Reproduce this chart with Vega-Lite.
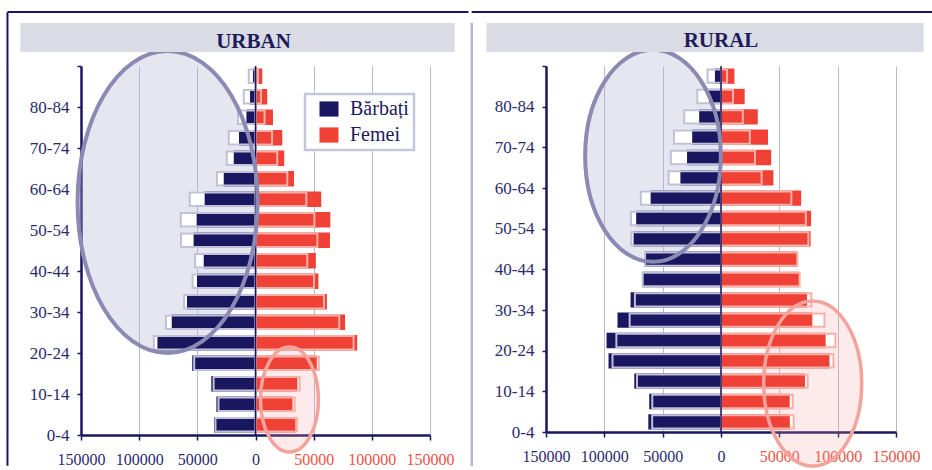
{
  "$schema": "https://vega.github.io/schema/vega-lite/v6.json",
  "background": "white",
  "padding": {"left": 6, "top": 10, "right": 0, "bottom": 0},
  "autosize": {"type": "pad"},
  "config": {
    "font": "Liberation Serif",
    "view": {"stroke": null},
    "concat": {"spacing": 0},
    "legend": {"strokeWidth": 2.5}
  },
  "datasets": {
    "urban": [
      {"age":"0-4","lo":0,"hi":5,"sex":"Bărbați","v":-35600,"m":-34400},
      {"age":"0-4","lo":0,"hi":5,"sex":"Femei","v":34400,"m":35600},
      {"age":"5-9","lo":5,"hi":10,"sex":"Bărbați","v":-33600,"m":-31800},
      {"age":"5-9","lo":5,"hi":10,"sex":"Femei","v":31800,"m":33600},
      {"age":"10-14","lo":10,"hi":15,"sex":"Bărbați","v":-38000,"m":-36000},
      {"age":"10-14","lo":10,"hi":15,"sex":"Femei","v":36000,"m":38000},
      {"age":"15-19","lo":15,"hi":20,"sex":"Bărbați","v":-54400,"m":-52700},
      {"age":"15-19","lo":15,"hi":20,"sex":"Femei","v":52700,"m":54400},
      {"age":"20-24","lo":20,"hi":25,"sex":"Bărbați","v":-84300,"m":-87400},
      {"age":"20-24","lo":20,"hi":25,"sex":"Femei","v":87400,"m":84300},
      {"age":"25-29","lo":25,"hi":30,"sex":"Bărbați","v":-72000,"m":-77000},
      {"age":"25-29","lo":25,"hi":30,"sex":"Femei","v":77000,"m":72000},
      {"age":"30-34","lo":30,"hi":35,"sex":"Bărbați","v":-58900,"m":-61400},
      {"age":"30-34","lo":30,"hi":35,"sex":"Femei","v":61400,"m":58900},
      {"age":"35-39","lo":35,"hi":40,"sex":"Bărbați","v":-50300,"m":-54100},
      {"age":"35-39","lo":35,"hi":40,"sex":"Femei","v":54100,"m":50300},
      {"age":"40-44","lo":40,"hi":45,"sex":"Bărbați","v":-44500,"m":-51900},
      {"age":"40-44","lo":40,"hi":45,"sex":"Femei","v":51900,"m":44500},
      {"age":"45-49","lo":45,"hi":50,"sex":"Bărbați","v":-53200,"m":-64000},
      {"age":"45-49","lo":45,"hi":50,"sex":"Femei","v":64000,"m":53200},
      {"age":"50-54","lo":50,"hi":55,"sex":"Bărbați","v":-50600,"m":-64300},
      {"age":"50-54","lo":50,"hi":55,"sex":"Femei","v":64300,"m":50600},
      {"age":"55-59","lo":55,"hi":60,"sex":"Bărbați","v":-43700,"m":-56500},
      {"age":"55-59","lo":55,"hi":60,"sex":"Femei","v":56500,"m":43700},
      {"age":"60-64","lo":60,"hi":65,"sex":"Bărbați","v":-27300,"m":-33100},
      {"age":"60-64","lo":60,"hi":65,"sex":"Femei","v":33100,"m":27300},
      {"age":"65-69","lo":65,"hi":70,"sex":"Bărbați","v":-18700,"m":-24700},
      {"age":"65-69","lo":65,"hi":70,"sex":"Femei","v":24700,"m":18700},
      {"age":"70-74","lo":70,"hi":75,"sex":"Bărbați","v":-14200,"m":-23000},
      {"age":"70-74","lo":70,"hi":75,"sex":"Femei","v":23000,"m":14200},
      {"age":"75-79","lo":75,"hi":80,"sex":"Bărbați","v":-7800,"m":-15000},
      {"age":"75-79","lo":75,"hi":80,"sex":"Femei","v":15000,"m":7800},
      {"age":"80-84","lo":80,"hi":85,"sex":"Bărbați","v":-4700,"m":-10100},
      {"age":"80-84","lo":80,"hi":85,"sex":"Femei","v":10100,"m":4700},
      {"age":"85+","lo":85,"hi":90,"sex":"Bărbați","v":-2200,"m":-5800},
      {"age":"85+","lo":85,"hi":90,"sex":"Femei","v":5800,"m":2200}
    ],
    "rural": [
      {"age":"0-4","lo":0,"hi":5,"sex":"Bărbați","v":-62300,"m":-59000},
      {"age":"0-4","lo":0,"hi":5,"sex":"Femei","v":59000,"m":62300},
      {"age":"5-9","lo":5,"hi":10,"sex":"Bărbați","v":-61500,"m":-58900},
      {"age":"5-9","lo":5,"hi":10,"sex":"Femei","v":58900,"m":61500},
      {"age":"10-14","lo":10,"hi":15,"sex":"Bărbați","v":-74300,"m":-72000},
      {"age":"10-14","lo":10,"hi":15,"sex":"Femei","v":72000,"m":74300},
      {"age":"15-19","lo":15,"hi":20,"sex":"Bărbați","v":-96400,"m":-93000},
      {"age":"15-19","lo":15,"hi":20,"sex":"Femei","v":93000,"m":96400},
      {"age":"20-24","lo":20,"hi":25,"sex":"Bărbați","v":-98100,"m":-89700},
      {"age":"20-24","lo":20,"hi":25,"sex":"Femei","v":89700,"m":98100},
      {"age":"25-29","lo":25,"hi":30,"sex":"Bărbați","v":-88700,"m":-78300},
      {"age":"25-29","lo":25,"hi":30,"sex":"Femei","v":78300,"m":88700},
      {"age":"30-34","lo":30,"hi":35,"sex":"Bărbați","v":-77500,"m":-73800},
      {"age":"30-34","lo":30,"hi":35,"sex":"Femei","v":73800,"m":77500},
      {"age":"35-39","lo":35,"hi":40,"sex":"Bărbați","v":-67400,"m":-67100},
      {"age":"35-39","lo":35,"hi":40,"sex":"Femei","v":67100,"m":67400},
      {"age":"40-44","lo":40,"hi":45,"sex":"Bărbați","v":-65400,"m":-65100},
      {"age":"40-44","lo":40,"hi":45,"sex":"Femei","v":65100,"m":65400},
      {"age":"45-49","lo":45,"hi":50,"sex":"Bărbați","v":-74900,"m":-76800},
      {"age":"45-49","lo":45,"hi":50,"sex":"Femei","v":76800,"m":74900},
      {"age":"50-54","lo":50,"hi":55,"sex":"Bărbați","v":-72700,"m":-77200},
      {"age":"50-54","lo":50,"hi":55,"sex":"Femei","v":77200,"m":72700},
      {"age":"55-59","lo":55,"hi":60,"sex":"Bărbați","v":-60300,"m":-68700},
      {"age":"55-59","lo":55,"hi":60,"sex":"Femei","v":68700,"m":60300},
      {"age":"60-64","lo":60,"hi":65,"sex":"Bărbați","v":-34800,"m":-44900},
      {"age":"60-64","lo":60,"hi":65,"sex":"Femei","v":44900,"m":34800},
      {"age":"65-69","lo":65,"hi":70,"sex":"Bărbați","v":-29100,"m":-43000},
      {"age":"65-69","lo":65,"hi":70,"sex":"Femei","v":43000,"m":29100},
      {"age":"70-74","lo":70,"hi":75,"sex":"Bărbați","v":-24700,"m":-40300},
      {"age":"70-74","lo":70,"hi":75,"sex":"Femei","v":40300,"m":24700},
      {"age":"75-79","lo":75,"hi":80,"sex":"Bărbați","v":-18700,"m":-31500},
      {"age":"75-79","lo":75,"hi":80,"sex":"Femei","v":31500,"m":18700},
      {"age":"80-84","lo":80,"hi":85,"sex":"Bărbați","v":-10300,"m":-20300},
      {"age":"80-84","lo":80,"hi":85,"sex":"Femei","v":20300,"m":10300},
      {"age":"85+","lo":85,"hi":90,"sex":"Bărbați","v":-5200,"m":-11500},
      {"age":"85+","lo":85,"hi":90,"sex":"Femei","v":11500,"m":5200}
    ]
  },
  "hconcat": [
    {
      "width": 349,
      "height": 369,
      "layer": [
        {
          "data": {"values": [{"x": -75600, "y": 56.83}]},
          "mark": {"type": "point", "shape": "M0,-1A0.596,1,0,1,1,0,1A0.596,1,0,1,1,0,-1Z", "size": 91204, "filled": true, "fill": "#b4b4d2", "fillOpacity": 0.33, "strokeOpacity": 0, "opacity": 1},
          "encoding": {
            "x": {"field": "x", "type": "quantitative", "scale": {"domain": [-150000, 150000], "nice": false, "zero": false},
              "axis": {"values": [-150000, -100000, -50000, 0, 50000, 100000, 150000], "labelExpr": "format(abs(datum.value), 'd')", "title": null, "grid": true, "gridColor": "#b9b9cc", "gridWidth": 1, "domainColor": "#1a1660", "domainWidth": 2.5, "tickColor": "#1a1660", "tickWidth": 1.5, "tickSize": 5, "labelFont": "Liberation Serif", "labelFontSize": 16, "labelColor": {"condition": {"test": "datum.value > 0", "value": "#f0513f"}, "value": "#2b2b6b"}, "labelPadding": 11, "labelFlush": false, "labelOverlap": false}},
            "y": {"field": "y", "type": "quantitative", "scale": {"domain": [0, 90], "nice": false, "zero": false},
              "axis": {"values": [0, 5, 10, 15, 20, 25, 30, 35, 40, 45, 50, 55, 60, 65, 70, 75, 80, 85, 90], "labelExpr": "datum.value % 10 === 0 && datum.value < 90 ? datum.value + '-' + (datum.value + 4) : ''", "title": null, "grid": false, "domainColor": "#1a1660", "domainWidth": 2.5, "tickColor": "#1a1660", "tickWidth": 1.5, "tickSize": 4, "labelFont": "Liberation Serif", "labelFontSize": 17, "labelColor": "#2b2b6b", "labelPadding": 8, "labelFlush": false, "labelOverlap": false, "labelBaseline": "middle"}}
          }
        },
        {
          "data": {"values": [{"x": 29200, "y": 8.66}]},
          "mark": {"type": "point", "shape": "M0,-1A0.552,1,0,1,1,0,1A0.552,1,0,1,1,0,-1Z", "size": 11025, "filled": true, "fill": "#f6a0a0", "fillOpacity": 0.22, "strokeOpacity": 0, "opacity": 1},
          "encoding": {"x": {"field": "x", "type": "quantitative"}, "y": {"field": "y", "type": "quantitative"}}
        },
        {
          "data": {"name": "urban"},
          "mark": {"type": "rect", "fill": "white", "yOffset": -2.5, "y2Offset": 2.5},
          "encoding": {"x": {"field": "m", "type": "quantitative"}, "x2": {"datum": 0}, "y": {"field": "lo", "type": "quantitative"}, "y2": {"field": "hi"}}
        },
        {
          "data": {"name": "urban"},
          "mark": {"type": "rect", "yOffset": -2.5, "y2Offset": 2.5},
          "encoding": {
            "x": {"field": "v", "type": "quantitative"}, "x2": {"datum": 0},
            "y": {"field": "lo", "type": "quantitative"}, "y2": {"field": "hi"},
            "color": {"field": "sex", "type": "nominal", "scale": {"domain": ["Bărbați", "Femei"], "range": ["#1a1660", "#ef4136"]},
              "legend": {"orient": "none", "legendX": 224, "legendY": 28, "title": null, "direction": "vertical", "symbolType": "M-1,-0.8H1V0.8H-1Z", "symbolSize": 361, "symbolStrokeWidth": 0, "symbolOffset": 9, "labelFont": "Liberation Serif", "labelFontSize": 20, "labelColor": "#1e1b5c", "labelOffset": 11, "padding": 5, "rowPadding": 6, "strokeColor": "#c6c6da", "fillColor": "white"}}
          }
        },
        {
          "data": {"name": "urban"},
          "mark": {"type": "rect", "fillOpacity": 0, "strokeWidth": 2, "yOffset": -3.5, "y2Offset": 3.5},
          "encoding": {
            "x": {"field": "m", "type": "quantitative"}, "x2": {"datum": 0},
            "y": {"field": "lo", "type": "quantitative"}, "y2": {"field": "hi"},
            "stroke": {"field": "sex", "type": "nominal", "scale": {"domain": ["Bărbați", "Femei"], "range": ["#c0c0d8", "#f6b0a8"]}, "legend": null}
          }
        },
        {
          "data": {"values": [{}]},
          "mark": {"type": "rule", "color": "#1a1660", "strokeWidth": 1.5},
          "encoding": {"x": {"datum": 0}}
        },
        {
          "data": {"values": [{"x": -75600, "y": 56.83}]},
          "mark": {"type": "point", "shape": "M0,-1A0.596,1,0,1,1,0,1A0.596,1,0,1,1,0,-1Z", "size": 91204, "filled": false, "stroke": "#8a8ab2", "strokeWidth": 4, "opacity": 1},
          "encoding": {"x": {"field": "x", "type": "quantitative"}, "y": {"field": "y", "type": "quantitative"}}
        },
        {
          "data": {"values": [{"x": 29200, "y": 8.66}]},
          "mark": {"type": "point", "shape": "M0,-1A0.552,1,0,1,1,0,1A0.552,1,0,1,1,0,-1Z", "size": 11025, "filled": false, "stroke": "#f4a39c", "strokeWidth": 3.5, "opacity": 1},
          "encoding": {"x": {"field": "x", "type": "quantitative"}, "y": {"field": "y", "type": "quantitative"}}
        },
        {
          "data": {"values": [{}]},
          "mark": {"type": "rect", "color": "#dbdbe6"},
          "encoding": {"x": {"datum": -202200}, "x2": {"datum": 171300}, "y": {"datum": 93.4}, "y2": {"datum": 100.5}}
        },
        {
          "data": {"values": [{"t": "URBAN"}]},
          "mark": {"type": "text", "font": "Liberation Serif", "fontSize": 21, "fontWeight": "bold", "color": "#1e1b5c", "baseline": "alphabetic", "align": "center"},
          "encoding": {"x": {"datum": -1700}, "y": {"datum": 94.4}, "text": {"field": "t"}}
        },
        {
          "data": {"values": [{}]},
          "mark": {"type": "rule", "color": "#1a1660", "strokeWidth": 2},
          "encoding": {"x": {"datum": -213200}, "y": {"datum": 89.9}, "y2": {"datum": 0.1}}
        },
        {
          "data": {"values": [{}]},
          "mark": {"type": "rule", "color": "#1a1660", "strokeWidth": 2},
          "encoding": {"x": {"datum": -213200}, "y": {"datum": 103.1}, "y2": {"datum": 89.8}}
        },
        {
          "data": {"values": [{}]},
          "mark": {"type": "rule", "color": "#1a1660", "strokeWidth": 2},
          "encoding": {"x": {"datum": -213200}, "y": {"datum": 0.2}, "y2": {"datum": -7.5}}
        },
        {
          "data": {"values": [{}]},
          "mark": {"type": "rule", "color": "#1a1660", "strokeWidth": 2},
          "encoding": {"x": {"datum": -213200}, "x2": {"datum": 183100}, "y": {"datum": 103.17}}
        }
      ]
    },
    {
      "width": 350,
      "height": 366,
      "layer": [
        {
          "data": {"values": [{"x": -58300, "y": 67.9}]},
          "mark": {"type": "point", "shape": "M0,-1A0.64,1,0,1,1,0,1A0.64,1,0,1,1,0,-1Z", "size": 44944, "filled": true, "fill": "#b4b4d2", "fillOpacity": 0.33, "strokeOpacity": 0, "opacity": 1},
          "encoding": {
            "x": {"field": "x", "type": "quantitative", "scale": {"domain": [-150000, 150000], "nice": false, "zero": false},
              "axis": {"values": [-150000, -100000, -50000, 0, 50000, 100000, 150000], "labelExpr": "format(abs(datum.value), 'd')", "title": null, "grid": true, "gridColor": "#b9b9cc", "gridWidth": 1, "domainColor": "#1a1660", "domainWidth": 2.5, "tickColor": "#1a1660", "tickWidth": 1.5, "tickSize": 5, "labelFont": "Liberation Serif", "labelFontSize": 16, "labelColor": {"condition": {"test": "datum.value > 0", "value": "#f0513f"}, "value": "#2b2b6b"}, "labelPadding": 11, "labelFlush": false, "labelOverlap": false}},
            "y": {"field": "y", "type": "quantitative", "scale": {"domain": [0, 90], "nice": false, "zero": false},
              "axis": {"values": [0, 5, 10, 15, 20, 25, 30, 35, 40, 45, 50, 55, 60, 65, 70, 75, 80, 85, 90], "labelExpr": "datum.value % 10 === 0 && datum.value < 90 ? datum.value + '-' + (datum.value + 4) : ''", "title": null, "grid": false, "domainColor": "#1a1660", "domainWidth": 2.5, "tickColor": "#1a1660", "tickWidth": 1.5, "tickSize": 4, "labelFont": "Liberation Serif", "labelFontSize": 17, "labelColor": "#2b2b6b", "labelPadding": 8, "labelFlush": false, "labelOverlap": false, "labelBaseline": "middle"}}
          }
        },
        {
          "data": {"values": [{"x": 78600, "y": 11.93}]},
          "mark": {"type": "point", "shape": "M0,-1A0.594,1,0,1,1,0,1A0.594,1,0,1,1,0,-1Z", "size": 27225, "filled": true, "fill": "#f6a0a0", "fillOpacity": 0.22, "strokeOpacity": 0, "opacity": 1},
          "encoding": {"x": {"field": "x", "type": "quantitative"}, "y": {"field": "y", "type": "quantitative"}}
        },
        {
          "data": {"name": "rural"},
          "mark": {"type": "rect", "fill": "white", "yOffset": -2.5, "y2Offset": 2.5},
          "encoding": {"x": {"field": "m", "type": "quantitative"}, "x2": {"datum": 0}, "y": {"field": "lo", "type": "quantitative"}, "y2": {"field": "hi"}}
        },
        {
          "data": {"name": "rural"},
          "mark": {"type": "rect", "yOffset": -2.5, "y2Offset": 2.5},
          "encoding": {
            "x": {"field": "v", "type": "quantitative"}, "x2": {"datum": 0},
            "y": {"field": "lo", "type": "quantitative"}, "y2": {"field": "hi"},
            "color": {"field": "sex", "type": "nominal", "scale": {"domain": ["Bărbați", "Femei"], "range": ["#1a1660", "#ef4136"]},
              "legend": {"orient": "none", "legendX": 238, "legendY": 28, "title": null, "direction": "vertical", "symbolType": "M-1,-0.8H1V0.8H-1Z", "symbolSize": 361, "symbolStrokeWidth": 0, "symbolOffset": 6, "labelFont": "Liberation Serif", "labelFontSize": 20, "labelColor": "#1e1b5c", "labelOffset": 8, "padding": 5, "rowPadding": 6, "strokeColor": "#c6c6da", "fillColor": "white"}}
          }
        },
        {
          "data": {"name": "rural"},
          "mark": {"type": "rect", "fillOpacity": 0, "strokeWidth": 2, "yOffset": -3.5, "y2Offset": 3.5},
          "encoding": {
            "x": {"field": "m", "type": "quantitative"}, "x2": {"datum": 0},
            "y": {"field": "lo", "type": "quantitative"}, "y2": {"field": "hi"},
            "stroke": {"field": "sex", "type": "nominal", "scale": {"domain": ["Bărbați", "Femei"], "range": ["#c0c0d8", "#f6b0a8"]}, "legend": null}
          }
        },
        {
          "data": {"values": [{}]},
          "mark": {"type": "rule", "color": "#1a1660", "strokeWidth": 1.5},
          "encoding": {"x": {"datum": 0}}
        },
        {
          "data": {"values": [{"x": -58300, "y": 67.9}]},
          "mark": {"type": "point", "shape": "M0,-1A0.64,1,0,1,1,0,1A0.64,1,0,1,1,0,-1Z", "size": 44944, "filled": false, "stroke": "#8a8ab2", "strokeWidth": 4, "opacity": 1},
          "encoding": {"x": {"field": "x", "type": "quantitative"}, "y": {"field": "y", "type": "quantitative"}}
        },
        {
          "data": {"values": [{"x": 78600, "y": 11.93}]},
          "mark": {"type": "point", "shape": "M0,-1A0.594,1,0,1,1,0,1A0.594,1,0,1,1,0,-1Z", "size": 27225, "filled": false, "stroke": "#f4a39c", "strokeWidth": 3.5, "opacity": 1},
          "encoding": {"x": {"field": "x", "type": "quantitative"}, "y": {"field": "y", "type": "quantitative"}}
        },
        {
          "data": {"values": [{}]},
          "mark": {"type": "rect", "color": "#dbdbe6"},
          "encoding": {"x": {"datum": -201100}, "x2": {"datum": 173700}, "y": {"datum": 93.44}, "y2": {"datum": 100.57}}
        },
        {
          "data": {"values": [{"t": "RURAL"}]},
          "mark": {"type": "text", "font": "Liberation Serif", "fontSize": 21, "fontWeight": "bold", "color": "#1e1b5c", "baseline": "alphabetic", "align": "center"},
          "encoding": {"x": {"datum": 0}, "y": {"datum": 94.67}, "text": {"field": "t"}}
        },
        {
          "data": {"values": [{}]},
          "mark": {"type": "rule", "color": "#b4b4cc", "strokeWidth": 2.5},
          "encoding": {"x": {"datum": -213600}, "y": {"datum": 100.57}, "y2": {"datum": -8.4}}
        },
        {
          "data": {"values": [{}]},
          "mark": {"type": "rule", "color": "#1a1660", "strokeWidth": 2},
          "encoding": {"x": {"datum": -213700}, "x2": {"datum": 181500}, "y": {"datum": 103.28}}
        }
      ]
    }
  ]
}
